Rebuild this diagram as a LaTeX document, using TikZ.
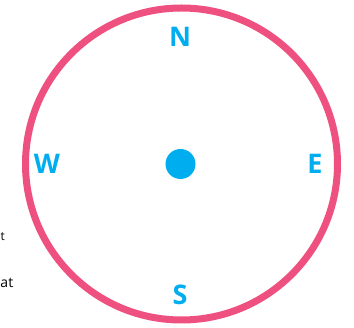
\documentclass[tikz,border=0pt]{standalone}
\usepackage{fontspec}
\setmainfont{Open Sans}
\definecolor{ringpink}{RGB}{238,80,128}
\definecolor{dirblue}{RGB}{0,174,239}
\begin{document}
\begin{tikzpicture}[x=1pt,y=-1pt,
  dirlabel/.style={text=dirblue,font=\fontsize{27}{27}\selectfont\bfseries,inner sep=0pt},
  sidetext/.style={text=black,font=\fontsize{14}{14}\selectfont,inner sep=0pt,anchor=base west}]
\useasboundingbox (0,0) rectangle (354,328);
\node[draw=ringpink,line width=7pt,circle,minimum size=312pt,inner sep=0pt] (ring) at (181.5,164) {};
\node[fill=dirblue,circle,minimum size=30pt,inner sep=0pt] (centre) at (180.5,164) {};
\node[dirlabel] (n) at (180,37) {N};
\node[dirlabel] (w) at (47,164) {W};
\node[dirlabel] (e) at (315,164) {E};
\node[dirlabel] (s) at (180,295) {S};
\node[sidetext,font=\fontsize{12}{12}\selectfont] (t1) at (0.5,241) {t};
\node[sidetext] (t2) at (0.3,288) {at};
\end{tikzpicture}
\end{document}
